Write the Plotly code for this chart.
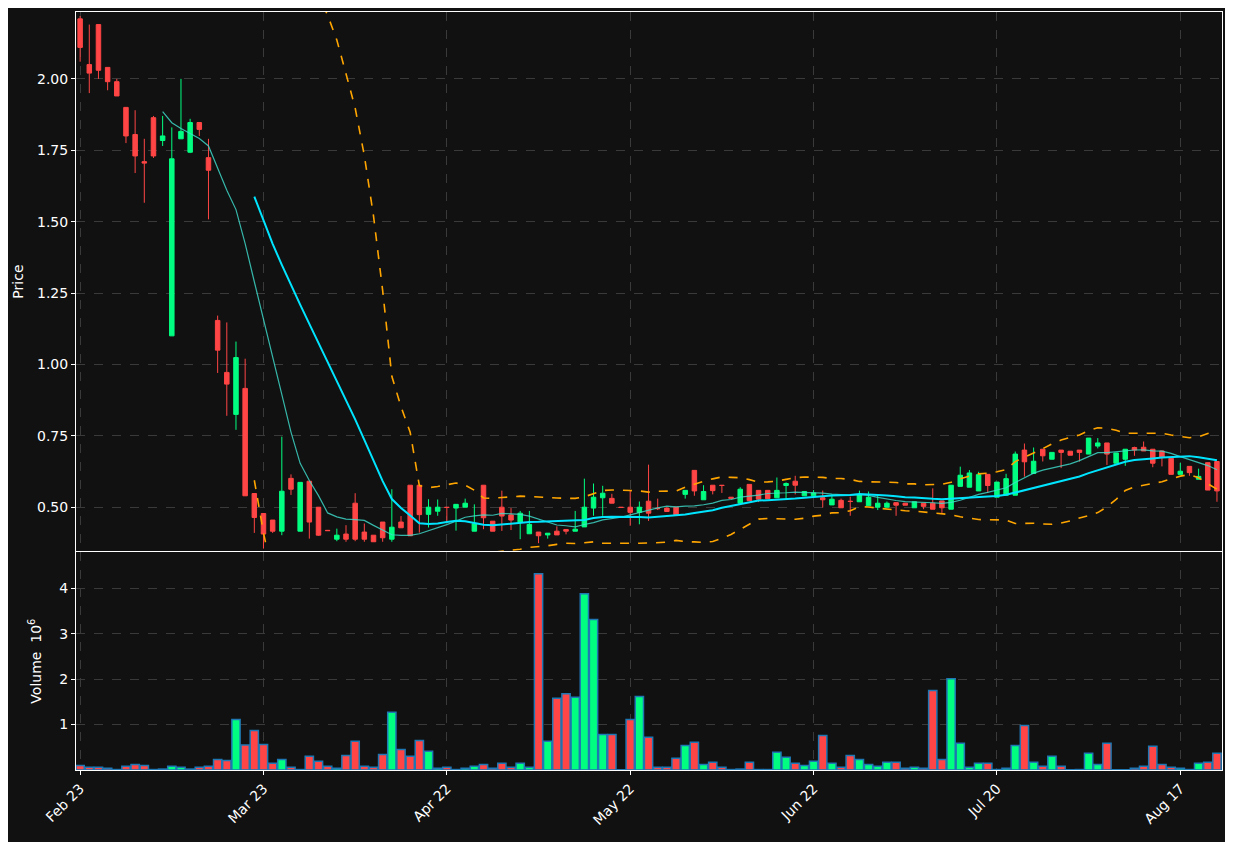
import plotly.graph_objects as go
from plotly.subplots import make_subplots
import pandas as pd

opens = [2.21,2.05,2.19,2.04,1.99,1.90,1.805,1.71,1.864,1.784,1.10,1.79,1.743,1.847,1.724,1.154,0.972,0.825,0.916,0.548,
0.478,0.455,0.416,0.601,0.416,0.591,0.50,0.419,0.388,0.406,0.514,0.413,0.402,0.448,0.388,0.448,0.577,0.577,0.475,0.486,
0.50,0.497,0.50,0.416,0.577,0.451,0.50,0.473,0.448,0.407,0.413,0.403,0.416,0.422,0.416,0.431,0.497,0.533,0.531,0.50,
0.50,0.482,0.521,0.496,0.497,0.50,0.545,0.629,0.526,0.577,0.577,0.535,0.514,0.58,0.559,0.559,0.533,0.576,0.591,0.54,
0.54,0.533,0.508,0.524,0.521,0.519,0.505,0.50,0.50,0.516,0.514,0.498,0.514,0.514,0.522,0.493,0.573,0.57,0.557,0.615,
0.535,0.542,0.542,0.70,0.618,0.703,0.668,0.70,0.696,0.70,0.686,0.714,0.725,0.654,0.668,0.709,0.71,0.703,0.697,0.671,
0.615,0.643,0.598,0.656,0.66]
highs = [2.22,2.19,2.19,2.04,2.00,1.90,1.89,1.79,1.87,1.87,1.83,2.00,1.86,1.847,1.79,1.171,1.147,1.08,1.02,0.548,
0.478,0.455,0.747,0.615,0.587,0.591,0.50,0.419,0.425,0.437,0.549,0.443,0.402,0.448,0.563,0.469,0.577,0.577,0.528,0.527,
0.50,0.51,0.53,0.51,0.577,0.451,0.558,0.497,0.487,0.487,0.413,0.409,0.433,0.422,0.487,0.60,0.583,0.575,0.547,0.50,
0.557,0.52,0.649,0.53,0.50,0.50,0.559,0.629,0.577,0.577,0.577,0.535,0.57,0.58,0.559,0.559,0.604,0.587,0.61,0.555,
0.56,0.558,0.545,0.53,0.537,0.558,0.555,0.54,0.52,0.516,0.514,0.519,0.514,0.566,0.522,0.577,0.642,0.63,0.624,0.615,
0.588,0.617,0.695,0.723,0.709,0.703,0.692,0.70,0.696,0.70,0.742,0.742,0.725,0.69,0.703,0.712,0.73,0.703,0.697,0.671,
0.655,0.643,0.635,0.656,0.66]
lows = [2.06,1.95,2.00,1.96,1.94,1.775,1.67,1.566,1.723,1.765,1.10,1.79,1.74,1.80,1.508,0.97,0.82,0.771,0.54,0.41,
0.355,0.41,0.402,0.543,0.416,0.39,0.40,0.417,0.381,0.379,0.381,0.379,0.379,0.379,0.379,0.428,0.40,0.411,0.429,0.47,
0.446,0.418,0.50,0.416,0.423,0.416,0.417,0.42,0.388,0.407,0.374,0.39,0.403,0.405,0.416,0.431,0.47,0.47,0.514,0.498,
0.435,0.44,0.452,0.49,0.485,0.474,0.53,0.54,0.526,0.545,0.55,0.53,0.514,0.523,0.518,0.53,0.533,0.53,0.545,0.54,
0.54,0.499,0.508,0.498,0.47,0.519,0.505,0.49,0.50,0.47,0.507,0.498,0.493,0.493,0.48,0.493,0.573,0.57,0.557,0.55,
0.535,0.542,0.542,0.607,0.618,0.66,0.668,0.637,0.682,0.66,0.686,0.706,0.648,0.654,0.645,0.68,0.697,0.64,0.643,0.615,
0.615,0.61,0.598,0.56,0.519]
closes = [2.11,2.02,2.03,1.99,1.94,1.80,1.73,1.705,1.73,1.80,1.72,1.816,1.847,1.823,1.68,1.05,0.931,1.024,0.54,0.464,
0.406,0.416,0.556,0.563,0.587,0.448,0.402,0.418,0.402,0.388,0.388,0.388,0.379,0.393,0.43,0.428,0.40,0.474,0.50,0.50,
0.499,0.51,0.514,0.442,0.463,0.416,0.469,0.455,0.479,0.44,0.40,0.409,0.403,0.416,0.423,0.50,0.535,0.549,0.514,0.499,
0.482,0.50,0.479,0.495,0.485,0.474,0.559,0.557,0.555,0.558,0.576,0.531,0.563,0.523,0.528,0.53,0.559,0.583,0.577,0.555,
0.55,0.526,0.528,0.498,0.52,0.544,0.535,0.514,0.514,0.507,0.507,0.519,0.503,0.493,0.498,0.577,0.612,0.62,0.614,0.576,
0.588,0.60,0.686,0.659,0.661,0.68,0.692,0.692,0.682,0.692,0.742,0.725,0.686,0.69,0.703,0.70,0.697,0.654,0.674,0.615,
0.626,0.621,0.608,0.56,0.557]
volumes = [0.10,0.06,0.06,0.04,0.01,0.08,0.12,0.10,0.01,0.02,0.08,0.06,0.02,0.06,0.08,0.23,0.21,1.11,0.55,0.87,
0.56,0.15,0.23,0.06,0.01,0.30,0.19,0.08,0.04,0.32,0.63,0.08,0.06,0.34,1.27,0.45,0.30,0.65,0.41,0.04,
0.06,0.01,0.04,0.08,0.12,0.04,0.15,0.06,0.15,0.06,4.32,0.63,1.58,1.68,1.60,3.88,3.31,0.78,0.78,0.005,
1.11,1.62,0.72,0.06,0.06,0.26,0.54,0.61,0.12,0.17,0.06,0.01,0.02,0.17,0.01,0.01,0.39,0.28,0.15,0.10,
0.19,0.76,0.15,0.06,0.32,0.23,0.12,0.08,0.17,0.17,0.04,0.06,0.04,1.75,0.23,2.01,0.59,0.06,0.15,0.15,
0.01,0.04,0.54,0.98,0.17,0.08,0.30,0.08,0.005,0.01,0.37,0.12,0.59,0.005,0.005,0.04,0.08,0.52,0.12,0.06,
0.04,0.01,0.15,0.17,0.37]
tick_positions = [0, 20, 40, 60, 80, 100, 120]
tick_labels = ["Feb 23", "Mar 23", "Apr 22", "May 22", "Jun 22", "Jul 20", "Aug 17"]

UP = "#00ff80"
DOWN = "#ff4545"
x = list(range(len(closes)))
s = pd.Series(closes)
ma10 = s.rolling(10).mean()
ma20 = s.rolling(20).mean()
sd20 = s.rolling(20).std()
upper = ma20 + 2 * sd20
lower = ma20 - 2 * sd20

fig = make_subplots(rows=2, cols=1, shared_xaxes=True, vertical_spacing=0.0015,
                    row_heights=[0.7124, 0.2876])
fig.add_trace(go.Candlestick(x=x, open=opens, high=highs, low=lows, close=closes,
    increasing=dict(line=dict(color=UP, width=1), fillcolor=UP),
    decreasing=dict(line=dict(color=DOWN, width=1), fillcolor=DOWN),
    whiskerwidth=0, showlegend=False), row=1, col=1)
fig.add_trace(go.Scatter(x=x, y=ma10, mode="lines", line=dict(color="rgba(64,224,208,0.8)", width=1.2),
                         showlegend=False), row=1, col=1)
fig.add_trace(go.Scatter(x=x, y=ma20, mode="lines", line=dict(color="#00e5ff", width=2),
                         showlegend=False), row=1, col=1)
for band in (upper, lower):
    fig.add_trace(go.Scatter(x=x, y=band, mode="lines", line=dict(color="#ffa500", width=1.6, dash="dash"),
                             showlegend=False), row=1, col=1)
vcolors = [UP if c >= o else DOWN for o, c in zip(opens, closes)]
fig.add_trace(go.Bar(x=x, y=volumes, marker=dict(color=vcolors, line=dict(color="#1f77b4", width=1.5)),
                     width=0.9, showlegend=False), row=2, col=1)

grid = dict(showgrid=True, gridcolor="#3a3a3a", griddash="dash", gridwidth=1,
            showline=True, linecolor="white", linewidth=1, mirror=True, zeroline=False,
            tickfont=dict(color="white", size=14), ticks="outside", tickcolor="white", ticklen=4)
fig.update_xaxes(**grid, range=[-0.45, 124.55], tickvals=tick_positions, ticktext=tick_labels,
                 rangeslider=dict(visible=False))
fig.update_xaxes(showticklabels=False, row=1, col=1)
fig.update_xaxes(tickangle=-45, row=2, col=1)
fig.update_yaxes(**grid)
fig.update_yaxes(range=[0.346, 2.234], tickvals=[0.5, 0.75, 1.0, 1.25, 1.5, 1.75, 2.0],
                 ticktext=["0.50", "0.75", "1.00", "1.25", "1.50", "1.75", "2.00"],
                 title=dict(text="Price", font=dict(color="white", size=14), standoff=10), row=1, col=1)
fig.update_yaxes(range=[0, 4.79], tickvals=[1, 2, 3, 4],
                 title=dict(text="Volume  10<sup>6</sup>", font=dict(color="white", size=14), standoff=14),
                 row=2, col=1)
fig.update_layout(width=1225, height=834, paper_bgcolor="#111111", plot_bgcolor="#111111",
                  margin=dict(l=68, r=11, t=4, b=72), bargap=0.1,
                  font=dict(family="DejaVu Sans", color="white"))
fig.write_html("out.html")
